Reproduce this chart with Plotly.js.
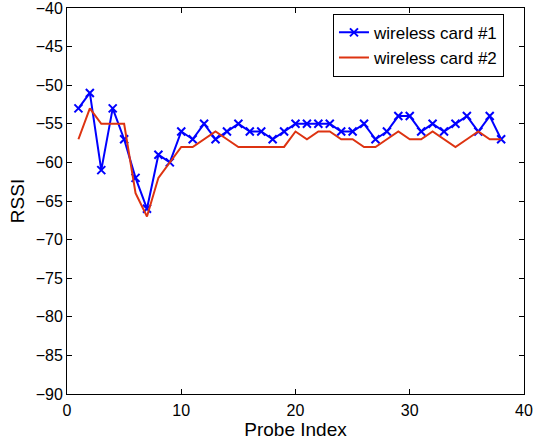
<!DOCTYPE html>
<html>
<head>
<meta charset="utf-8">
<script src="https://cdn.plot.ly/plotly-3.0.1.min.js"></script>
<style>html,body{margin:0;padding:0;background:#fff;}#chart{width:533px;height:443px;}</style>
</head>
<body>
<div id="chart"></div>
<script>
const probeIndex = [1,2,3,4,5,6,7,8,9,10,11,12,13,14,15,16,17,18,19,20,21,22,23,24,25,26,27,28,29,30,31,32,33,34,35,36,37,38];
const card1 = [-53,-51,-61,-53,-57,-62,-66,-59,-60,-56,-57,-55,-57,-56,-55,-56,-56,-57,-56,-55,-55,-55,-55,-56,-56,-55,-57,-56,-54,-54,-56,-55,-56,-55,-54,-56,-54,-57];
const card2 = [-57,-53,-55,-55,-55,-64,-67,-62,-60,-58,-58,-57,-56,-57,-58,-58,-58,-58,-58,-56,-57,-56,-56,-57,-57,-58,-58,-57,-56,-57,-57,-56,-57,-58,-57,-56,-57,-57];
const seriesNames = ['wireless card #1', 'wireless card #2'];
const yTicks = [-90,-85,-80,-75,-70,-65,-60,-55,-50,-45,-40];
const xTicks = [0,10,20,30,40];

const fam = 'Liberation Sans, Arial, sans-serif';
const tickFont = {family: fam, size: 16, color: '#000'};
const traces = [
  {x: probeIndex, y: card1, name: seriesNames[0], mode: 'lines+markers', type: 'scatter',
   line: {color: '#0000ff', width: 2}, marker: {symbol: 'x-thin', size: 8, line: {color: '#0000ff', width: 2}, color: '#0000ff'}},
  {x: probeIndex, y: card2, name: seriesNames[1], mode: 'lines', type: 'scatter',
   line: {color: '#dd3311', width: 2}}
];
const axisCommon = {showgrid: false, zeroline: false, showline: true, linecolor: '#000', linewidth: 1,
  mirror: 'ticks', ticks: 'inside', ticklen: 5, tickwidth: 1, tickcolor: '#000', tickfont: tickFont,
  ticklabeloverflow: 'allow', automargin: false};
const layout = {
  width: 533, height: 443,
  margin: {l: 67, r: 9, t: 8, b: 49},
  paper_bgcolor: '#fff', plot_bgcolor: '#fff',
  font: tickFont,
  showlegend: true,
  legend: {x: 0.582, y: 0.985, xanchor: 'left', yanchor: 'top', bgcolor: '#fff', bordercolor: '#000', borderwidth: 1,
    font: {family: fam, size: 17, color: '#000'}, tracegroupgap: 0},
  xaxis: Object.assign({}, axisCommon, {range: [0, 40], tickvals: xTicks, ticktext: xTicks.map(String), ticklabelstandoff: 2,
    title: {text: 'Probe Index', font: {family: fam, size: 19, color: '#000'}, standoff: 0}}),
  yaxis: Object.assign({}, axisCommon, {range: [-90, -40], tickvals: yTicks, ticklabelstandoff: 0,
    title: {text: 'RSSI', font: {family: fam, size: 19, color: '#000'}, standoff: 6}})
};
Plotly.newPlot('chart', traces, layout, {displayModeBar: false, staticPlot: true});
</script>
</body>
</html>
